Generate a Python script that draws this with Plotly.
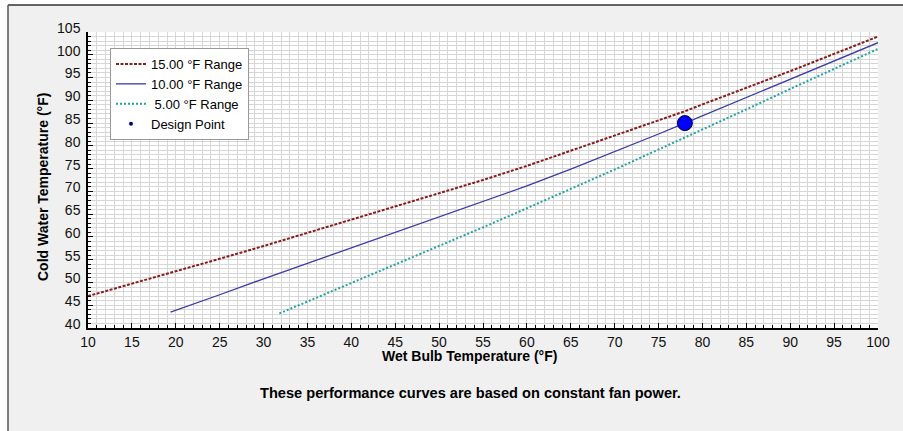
import plotly.graph_objects as go

wb_15 = [10, 15, 20, 25, 30, 35, 40, 45, 50, 55, 60, 65, 70, 75, 78, 80, 85, 90, 95, 100]
cw_15 = [47.0, 49.7, 52.4, 55.2, 58.0, 60.9, 63.8, 66.6, 69.5, 72.5, 75.6, 78.9, 82.2, 85.6, 87.6, 89.1, 92.7, 96.4, 100.2, 104.0]

wb_10 = [19.4, 20, 25, 30, 35, 40, 45, 50, 55, 60, 65, 70, 75, 78, 80, 85, 90, 95, 100]
cw_10 = [43.5, 43.9, 47.3, 50.8, 54.2, 57.6, 61.0, 64.3, 67.7, 71.2, 74.9, 78.7, 82.6, 85.0, 86.6, 90.6, 94.6, 98.6, 102.65]

wb_5 = [31.8, 35, 40, 45, 50, 55, 60, 65, 70, 75, 78, 80, 85, 90, 95, 100]
cw_5 = [43.2, 45.8, 49.8, 53.8, 57.9, 62.1, 66.3, 70.5, 74.8, 79.2, 81.8, 83.6, 88.0, 92.5, 96.9, 101.3]

design_wb = [78]
design_cw = [85]

names = ["15.00 °F Range", "10.00 °F Range", " 5.00 °F Range", "Design Point"]

FONT = "Liberation Sans, Arial, sans-serif"

fig = go.Figure()
fig.add_trace(go.Scatter(x=wb_15, y=cw_15, mode="lines", name=names[0],
                         line=dict(color="#8b1a1a", width=2, dash="3px,1.5px")))
fig.add_trace(go.Scatter(x=wb_10, y=cw_10, mode="lines", name=names[1],
                         line=dict(color="#3a3aa8", width=1.3)))
fig.add_trace(go.Scatter(x=wb_5, y=cw_5, mode="lines", name=names[2],
                         line=dict(color="#1fa3a3", width=2, dash="2px,2px")))
# big marker on the chart, small one only in the legend
fig.add_trace(go.Scatter(x=design_wb, y=design_cw, mode="markers", showlegend=False,
                         marker=dict(color="#0000ff", size=15, line=dict(color="#000033", width=1))))
fig.add_trace(go.Scatter(x=[None], y=[None], mode="markers", name=names[3],
                         marker=dict(color="#000080", size=4)))

# plot area is l=88..878, t=32..328
def px(x):
    return (x - 88) / 790.0

def py(y):
    return (328 - y) / 296.0

shapes = [
    # white strips outside the window frame
    dict(type="rect", xref="paper", yref="paper", x0=px(0), x1=px(903), y0=py(5), y1=py(0),
         fillcolor="white", line=dict(width=0)),
    dict(type="rect", xref="paper", yref="paper", x0=px(0), x1=px(8), y0=py(431), y1=py(5),
         fillcolor="white", line=dict(width=0)),
    dict(type="line", xref="paper", yref="paper", x0=px(8), x1=px(903), y0=py(5), y1=py(5),
         line=dict(color="#333333", width=1.5)),
    dict(type="line", xref="paper", yref="paper", x0=px(8), x1=px(8), y0=py(431), y1=py(5),
         line=dict(color="#555555", width=1.5)),
]

annotations = [
    dict(text="<b>Wet Bulb Temperature (°F)</b>", x=px(469), y=py(356), xref="paper", yref="paper",
         xanchor="center", yanchor="middle", showarrow=False,
         font=dict(size=14, color="black", family=FONT)),
    dict(text="<b>Cold Water Temperature (°F)</b>", x=px(43), y=py(187), xref="paper", yref="paper",
         xanchor="center", yanchor="middle", showarrow=False, textangle=-90,
         font=dict(size=14, color="black", family=FONT)),
    dict(text="<b>These performance curves are based on constant fan power.</b>", x=px(470), y=py(393),
         xref="paper", yref="paper", xanchor="center", yanchor="middle", showarrow=False,
         font=dict(size=14.6, color="black", family=FONT)),
]

grid = "#d6d6d6"
fig.update_layout(
    width=903, height=431,
    margin=dict(l=88, r=25, t=32, b=103),
    paper_bgcolor="#f0f0f0", plot_bgcolor="white",
    font=dict(family=FONT, size=14, color="#111111"),
    shapes=shapes, annotations=annotations,
    legend=dict(x=px(110), y=py(48), xanchor="left", yanchor="top",
                bgcolor="white", bordercolor="#999999", borderwidth=1,
                font=dict(size=13, family=FONT, color="black"),
                itemwidth=30, tracegroupgap=0),
    xaxis=dict(range=[10, 100], dtick=5, tick0=10, ticks="inside", ticklen=5, tickcolor="black",
               showline=True, linecolor="black", linewidth=1.5, mirror=False,
               showgrid=True, gridcolor=grid, gridwidth=1, zeroline=False,
               minor=dict(dtick=1, ticks="inside", ticklen=3, tickcolor="black",
                          showgrid=True, gridcolor=grid, gridwidth=1)),
    yaxis=dict(range=[40, 105], dtick=5, tick0=40, ticks="inside", ticklen=5, tickcolor="black",
               showline=True, linecolor="black", linewidth=1.5, mirror=False,
               showgrid=True, gridcolor=grid, gridwidth=1, zeroline=False,
               ticklabelshift=-4, ticklabelstandoff=3,
               minor=dict(dtick=1, ticks="inside", ticklen=3, tickcolor="black",
                          showgrid=True, gridcolor=grid, gridwidth=1)),
)

# drop the default page margin so the figure sits at the window corner
fig.write_html("out.html", config={"displayModeBar": False},
               post_script="document.body.style.margin='0';")
